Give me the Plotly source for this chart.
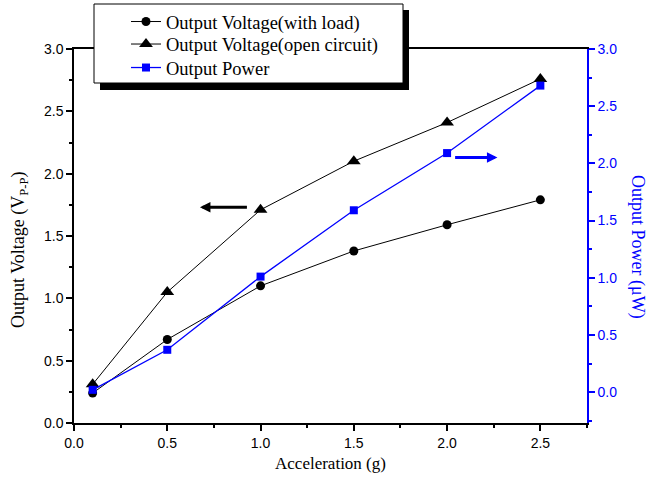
import plotly.graph_objects as go

accel = [0.1, 0.5, 1.0, 1.5, 2.0, 2.5]
v_load = [0.24, 0.67, 1.10, 1.38, 1.59, 1.79]
v_open = [0.31, 1.05, 1.71, 2.10, 2.41, 2.76]
power = [0.02, 0.37, 1.01, 1.59, 2.09, 2.68]

W, H = 650, 482
L, R, T, B = 74, 63, 49, 59
pw, ph = W - L - R, H - T - B

def px2paper(px, py):
    return (px - L) / pw, (H - B - py) / ph

fig = go.Figure()
fig.add_trace(go.Scatter(x=accel, y=v_load, mode="lines+markers", name="Output Voltage(with load)", legend="legend",
                         line=dict(color="black", width=1), marker=dict(symbol="circle", size=9, color="black")))
fig.add_trace(go.Scatter(x=accel, y=v_open, mode="lines+markers", name="Output Voltage(open circuit)", legend="legend2",
                         line=dict(color="black", width=1), marker=dict(symbol="triangle-up", size=12, color="black")))
fig.add_trace(go.Scatter(x=accel, y=power, mode="lines+markers", name="Output Power", yaxis="y2", legend="legend3",
                         line=dict(color="#0000ff", width=1.3), marker=dict(symbol="square", size=8, color="#0000ff")))

tickfont = dict(family="Liberation Sans, Arial, sans-serif", size=14, color="black")
serif = "Liberation Serif, Times New Roman, serif"

# legend box with shadow
x0, y0 = px2paper(100, 90)
x1, y1 = px2paper(409, 10)
sx0, sy0 = px2paper(94, 83)
sx1, sy1 = px2paper(403, 4)
fig.add_shape(type="rect", xref="paper", yref="paper", x0=x0, y0=y0, x1=x1, y1=y1,
              fillcolor="black", line=dict(width=0), layer="above")
fig.add_shape(type="rect", xref="paper", yref="paper", x0=sx0, y0=sy0, x1=sx1, y1=sy1,
              fillcolor="white", line=dict(color="black", width=1), layer="above")

# arrows
fig.add_annotation(x=0.675, y=1.73, ax=0.935, ay=1.73, xref="x", yref="y", axref="x", ayref="y",
                   showarrow=True, arrowhead=2, arrowsize=0.7, arrowwidth=3, arrowcolor="black", text="")
fig.add_annotation(x=2.27, y=2.13, ax=2.035, ay=2.13, xref="x", yref="y", axref="x", ayref="y",
                   showarrow=True, arrowhead=2, arrowsize=0.7, arrowwidth=3, arrowcolor="#0000ff", text="")

# left axis title
lx_, ly_ = px2paper(20, 250)
fig.add_annotation(x=lx_, y=ly_, xref="paper", yref="paper", xanchor="center", yanchor="middle",
                   text="Output Voltage (V<sub>P-P</sub>)", textangle=-90,
                   showarrow=False, font=dict(family=serif, size=18, color="black"))
# right axis title (reads top to bottom)
tx, ty = px2paper(638, 247)
fig.add_annotation(x=tx, y=ty, xref="paper", yref="paper", xanchor="center", yanchor="middle",
                   text="Output Power (\u03bcW)", textangle=90,
                   showarrow=False, font=dict(family=serif, size=18, color="#0000ff"))

legfont = dict(family=serif, size=18.5, color="black")
def leg(row_y):
    x, y = px2paper(126, row_y)
    return dict(x=x, y=y, xanchor="left", yanchor="middle", bgcolor="rgba(0,0,0,0)", borderwidth=0,
                font=legfont)

fig.update_layout(
    width=W, height=H, margin=dict(l=L, r=R, t=T, b=B, autoexpand=False),
    plot_bgcolor="white", paper_bgcolor="white",
    showlegend=True,
    legend=leg(22), legend2=leg(44.5), legend3=leg(68),
    xaxis=dict(range=[0, 2.75], tickvals=[0, 0.5, 1.0, 1.5, 2.0, 2.5], ticktext=["0.0", "0.5", "1.0", "1.5", "2.0", "2.5"],
               ticks="outside", ticklen=6, tickwidth=1.5, tickcolor="black",
               minor=dict(dtick=0.25, ticks="outside", ticklen=3, tickwidth=1.5, tickcolor="black"),
               showline=True, linecolor="black", linewidth=1.5, mirror=True, showgrid=False, zeroline=False,
               tickfont=tickfont,
               title=dict(text="Acceleration (g)", font=dict(family=serif, size=17, color="black"), standoff=8)),
    yaxis=dict(range=[0, 3.0], dtick=0.5, tickformat=".1f",
               ticks="outside", ticklen=6, tickwidth=1.5, tickcolor="black",
               minor=dict(dtick=0.25, ticks="outside", ticklen=3, tickwidth=1.5, tickcolor="black"),
               showline=True, linecolor="black", linewidth=1.5, showgrid=False, zeroline=False,
               tickfont=tickfont),
    yaxis2=dict(range=[-0.27, 3.0], dtick=0.5, tick0=0, tickformat=".1f", overlaying="y", side="right",
                ticks="outside", ticklen=6, tickwidth=1.5, tickcolor="#0000ff",
                minor=dict(dtick=0.25, tick0=0, ticks="outside", ticklen=3, tickwidth=1.5, tickcolor="#0000ff"),
                showline=True, linecolor="#0000ff", linewidth=1.5, showgrid=False, zeroline=False,
                tickfont=dict(family="Liberation Sans, Arial, sans-serif", size=14, color="#0000ff")),
)

fig.write_html("out.html")
